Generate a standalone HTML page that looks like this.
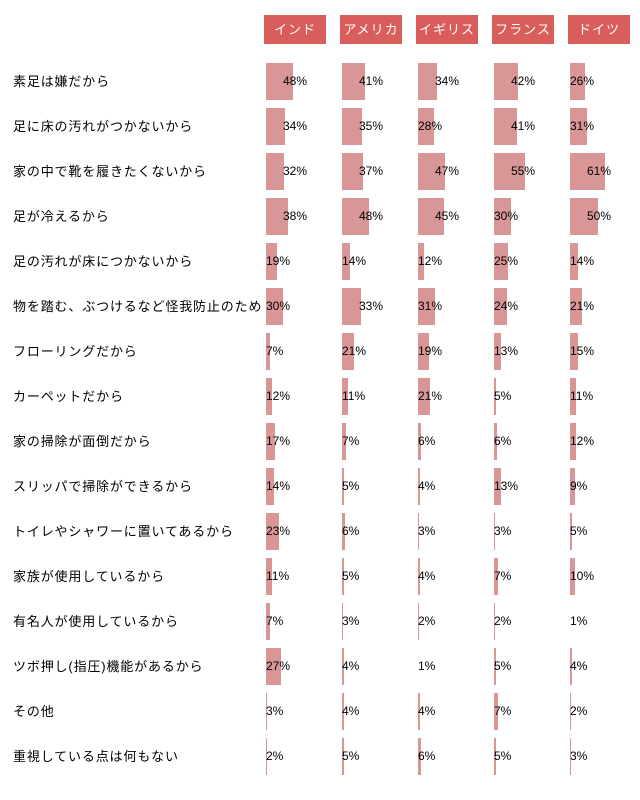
<!DOCTYPE html>
<html><head><meta charset="utf-8">
<style>
body{margin:0;width:640px;height:800px;background:#fff;position:relative;overflow:hidden;font-family:"Liberation Sans","Noto Sans CJK JP",sans-serif;}
.h{position:absolute;top:15px;width:62px;height:29px;background:#d95d5b;color:#fff;font-size:13px;line-height:29px;text-align:center;letter-spacing:1px;}
.l{position:absolute;left:13px;font-size:13px;color:#000;white-space:nowrap;letter-spacing:0.85px;height:37px;line-height:37px;}
.b{position:absolute;height:37px;background:#d99696;}
.t{position:absolute;font-size:12px;height:37px;line-height:37px;color:#000;}
</style></head><body>
<div class="h" style="left:264px">インド</div>
<div class="h" style="left:340px">アメリカ</div>
<div class="h" style="left:416px">イギリス</div>
<div class="h" style="left:492px">フランス</div>
<div class="h" style="left:568px">ドイツ</div>
<div id="c"></div>
<script>
var d=[["素足は嫌だから",48,41,34,42,26],["足に床の汚れがつかないから",34,35,28,41,31],["家の中で靴を履きたくないから",32,37,47,55,61],["足が冷えるから",38,48,45,30,50],["足の汚れが床につかないから",19,14,12,25,14],["物を踏む、ぶつけるなど怪我防止のため",30,33,31,24,21],["フローリングだから",7,21,19,13,15],["カーペットだから",12,11,21,5,11],["家の掃除が面倒だから",17,7,6,6,12],["スリッパで掃除ができるから",14,5,4,13,9],["トイレやシャワーに置いてあるから",23,6,3,3,5],["家族が使用しているから",11,5,4,7,10],["有名人が使用しているから",7,3,2,2,1],["ツボ押し(指圧)機能があるから",27,4,1,5,4],["その他",3,4,4,7,2],["重視している点は何もない",2,5,6,5,3]];
var h="";
for(var i=0;i<d.length;i++){var y=63+45*i;h+='<div class="l" style="top:'+y+'px">'+d[i][0]+'</div>';
for(var j=0;j<5;j++){var p=d[i][j+1],x=266+76*j,w=Math.floor(p*0.58);
if(w>0)h+='<div class="b" style="top:'+y+'px;left:'+x+'px;width:'+w+'px"></div>';
var o=w>=18?17:0;h+='<div class="t" style="top:'+y+'px;left:'+(x+o)+'px">'+p+'%</div>';}}
document.getElementById("c").innerHTML=h;
</script>
</body></html>
